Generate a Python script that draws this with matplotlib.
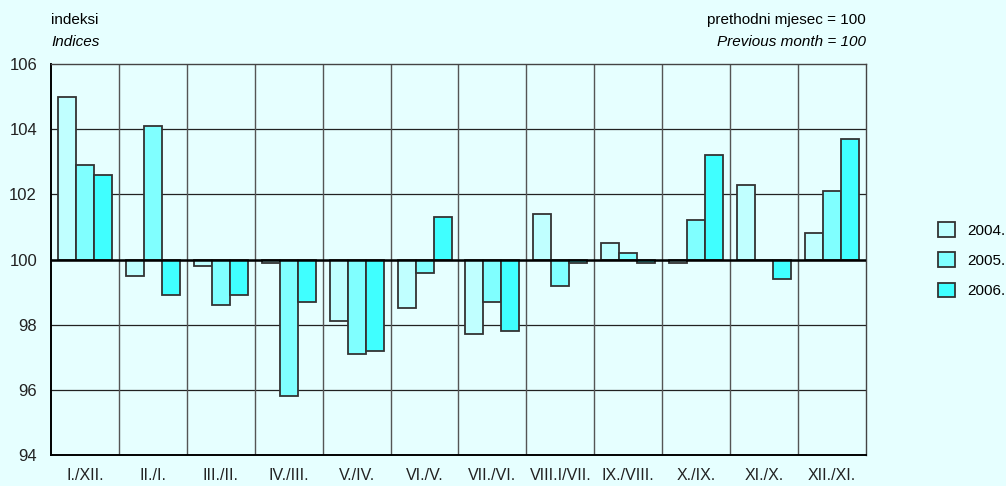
import matplotlib.pyplot as plt
import matplotlib.patches as patches
import numpy as np

plt.rcParams["font.family"] = ["Liberation Sans", "DejaVu Sans"]

# Month-over-month indices (previous month = 100)
categories = ["I./XII.", "II./I.", "III./II.", "IV./III.", "V./IV.", "VI./V.",
              "VII./VI.", "VIII.I/VII.", "IX./VIII.", "X./IX.", "XI./X.", "XII./XI."]
years = ["2004.", "2005.", "2006."]
values_2004 = [105.0, 99.5, 99.8, 99.9, 98.1, 98.5, 97.7, 101.4, 100.5, 99.9, 102.3, 100.8]
values_2005 = [102.9, 104.1, 98.6, 95.8, 97.1, 99.6, 98.7, 99.2, 100.2, 101.2, 100.0, 102.1]
values_2006 = [102.6, 98.9, 98.9, 98.7, 97.2, 101.3, 97.8, 99.9, 99.9, 103.2, 99.4, 103.7]
y_ticks = [94, 96, 98, 100, 102, 104, 106]

bg = "#e6ffff"
colors = ["#c0ffff", "#80ffff", "#40ffff"]
edge = "#333333"

fig = plt.figure(figsize=(10.06, 4.86), dpi=100, facecolor=bg)
ax = fig.add_axes([51 / 1006, 1 - 455 / 486, 815 / 1006, 391 / 486])
ax.set_facecolor(bg)

x = np.arange(len(categories))
width = 0.265
base = 100
for i, (vals, col, lab) in enumerate(zip([values_2004, values_2005, values_2006], colors, years)):
    v = np.array(vals)
    ax.bar(x + (i - 1) * width, v - base, bottom=base, width=width,
           color=col, edgecolor=edge, linewidth=1.3, label=lab, zorder=3)

ax.set_xlim(-0.5, len(categories) - 0.5)
ax.set_ylim(94, 106)
ax.set_yticks(y_ticks)
ax.set_yticklabels([str(t) for t in y_ticks], fontsize=12, color="#222222")
ax.set_xticks(x)
ax.set_xticklabels(categories, fontsize=11.5, color="#222222")
ax.tick_params(axis="y", length=0, pad=10)
ax.tick_params(axis="x", length=0, pad=9)

# grid: horizontal at each tick, vertical at group boundaries
for t in y_ticks[1:-1]:
    ax.axhline(t, color="#222222", linewidth=0.9, zorder=1)
for b in np.arange(0.5, len(categories) - 0.5, 1):
    ax.axvline(b, color="#555555", linewidth=1.0, zorder=1)
ax.axhline(100, color="black", linewidth=1.8, zorder=4)

for side in ["top", "right"]:
    ax.spines[side].set_color("#444444")
    ax.spines[side].set_linewidth(1.0)
for side in ["left", "bottom"]:
    ax.spines[side].set_color("black")
    ax.spines[side].set_linewidth(1.4)

fig.text(51 / 1006, 1 - 20 / 486, "indeksi", fontsize=11, va="center", ha="left")
fig.text(51 / 1006, 1 - 42 / 486, "Indices", fontsize=11, style="italic", va="center", ha="left")
fig.text(866 / 1006, 1 - 20 / 486, "prethodni mjesec = 100", fontsize=11, va="center", ha="right")
fig.text(866 / 1006, 1 - 42 / 486, "Previous month = 100", fontsize=11, style="italic",
         va="center", ha="right")

leg = fig.legend(loc="upper left", bbox_to_anchor=(938 / 1006, 1 - 222 / 486),
                 frameon=False, fontsize=11, handlelength=1.1, handleheight=1.1,
                 labelspacing=0.97, handletextpad=0.8, borderpad=0, borderaxespad=0)
for h in leg.legend_handles:
    h.set_linewidth(1.3)

fig.savefig("out.png", dpi=100, facecolor=bg)
